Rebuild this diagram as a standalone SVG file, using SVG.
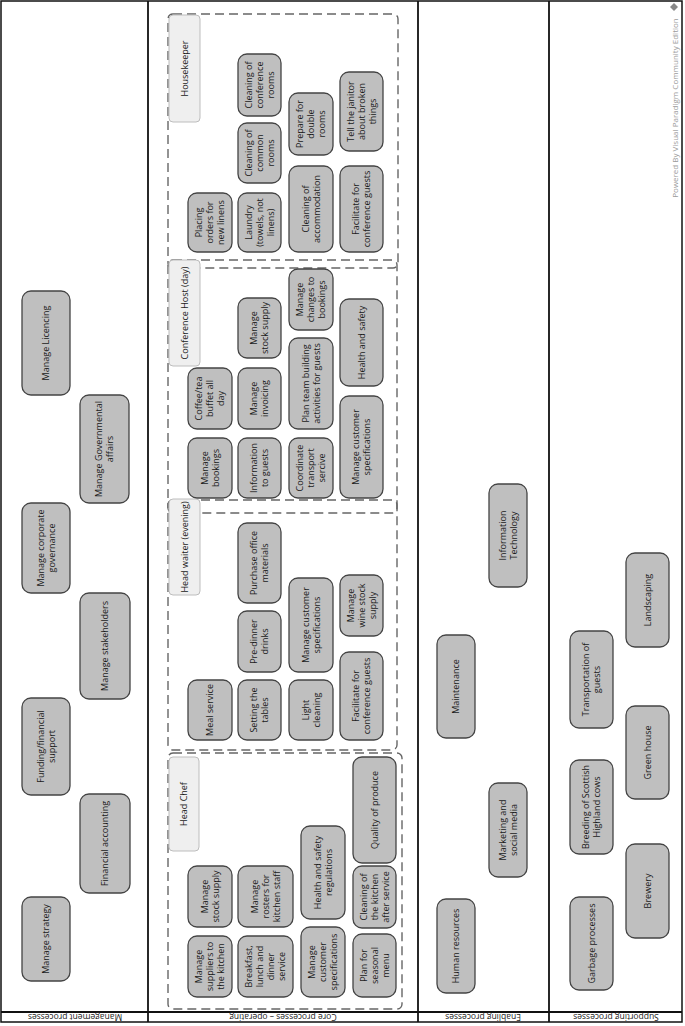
<svg xmlns="http://www.w3.org/2000/svg" width="685" height="1026" viewBox="0 0 685 1026">
<style>
.bg{fill:#fff}
.frame{fill:none;stroke:#111;stroke-width:1.5}
.sep{stroke:#111;stroke-width:1.8}
.n rect{fill:#bfbfbf;stroke:#444;stroke-width:1.3}
.n text{font-family:"Open Sans","DejaVu Sans",sans-serif;font-size:9px;fill:#1a1a1a;text-anchor:middle}
.grp{fill:none;stroke:#666;stroke-width:1.4;stroke-dasharray:9,5}
.hdr rect{fill:#efefef;stroke:#bdbdbd;stroke-width:1}
.hdr text{font-family:"Open Sans","DejaVu Sans",sans-serif;font-size:9px;fill:#1a1a1a;text-anchor:middle}
.lane{font-family:"Open Sans","DejaVu Sans",sans-serif;font-size:8.5px;fill:#222;text-anchor:middle}
.wm{font-family:"Open Sans","DejaVu Sans",sans-serif;font-size:8px;fill:#9a9a9a;text-anchor:middle}
</style>
<rect class="bg" x="0" y="0" width="685" height="1026"/>
<g id="lanes">
<rect class="frame" x="1" y="1" width="681" height="1021"/>
<line class="sep" x1="148" y1="1" x2="148" y2="1022"/>
<line class="sep" x1="418" y1="1" x2="418" y2="1022"/>
<line class="sep" x1="549" y1="1" x2="549" y2="1022"/>
<line class="sep" x1="1" y1="1012" x2="682" y2="1012"/>
<text class="lane" transform="translate(75,1017) rotate(180)" y="3">Management processes</text>
<text class="lane" transform="translate(283,1017) rotate(180)" y="3">Core processes – operating</text>
<text class="lane" transform="translate(483,1017) rotate(180)" y="3">Enabling processes</text>
<text class="lane" transform="translate(616,1017) rotate(180)" y="3">Supporting processes</text>
</g>
<g id="watermark">
<text class="wm" transform="translate(675,108) rotate(-90)" y="3">Powered By Visual Paradigm Community Edition</text>
<path d="M674,3 l4,4 l-4,4 l-4,-4 z" fill="#888"/>
</g>
<g id="groups">
<rect id="g-housekeeper" class="grp" x="168" y="14" width="230" height="254" rx="5"/>
<rect id="g-conference" class="grp" x="168" y="260" width="229" height="253" rx="5"/>
<rect id="g-waiter" class="grp" x="168" y="500" width="229" height="250" rx="5"/>
<rect id="g-chef" class="grp" x="168" y="753" width="234" height="256" rx="5"/>
<g class="hdr" id="h-housekeeper"><rect x="169" y="15" width="31" height="107" rx="4"/><text transform="translate(184.5,68.5) rotate(-90)" y="3">Housekeeper</text></g>
<g class="hdr" id="h-conference"><rect x="169" y="260" width="31" height="106" rx="4"/><text transform="translate(184.5,313) rotate(-90)" y="3">Conference Host (day)</text></g>
<g class="hdr" id="h-waiter"><rect x="169" y="499" width="31" height="96" rx="4"/><text transform="translate(184.5,547) rotate(-90)" y="3">Head waiter (evening)</text></g>
<g class="hdr" id="h-chef"><rect x="169" y="757" width="30" height="94" rx="4"/><text transform="translate(184,804) rotate(-90)" y="3">Head Chef</text></g>
</g>
<g id="connectors"></g>

<!-- Management -->
<g class="n" id="m1"><rect x="22" y="897" width="48" height="84" rx="9"/><text transform="translate(46,939) rotate(-90)"><tspan x="0" y="3">Manage strategy</tspan></text></g>
<g class="n" id="m2"><rect x="80" y="794" width="50" height="99" rx="9"/><text transform="translate(105,843.5) rotate(-90)"><tspan x="0" y="3">Financial accounting</tspan></text></g>
<g class="n" id="m3"><rect x="22" y="698" width="48" height="97" rx="9"/><text transform="translate(46,746.5) rotate(-90)"><tspan x="0" y="-2.5">Funding/financial</tspan><tspan x="0" y="8.5">support</tspan></text></g>
<g class="n" id="m4"><rect x="80" y="593" width="50" height="106" rx="9"/><text transform="translate(105,646) rotate(-90)"><tspan x="0" y="3">Manage stakeholders</tspan></text></g>
<g class="n" id="m5"><rect x="22" y="503" width="48" height="90" rx="9"/><text transform="translate(46,548) rotate(-90)"><tspan x="0" y="-2.5">Manage corporate</tspan><tspan x="0" y="8.5">governance</tspan></text></g>
<g class="n" id="m6"><rect x="80" y="395" width="49" height="108" rx="9"/><text transform="translate(104.5,449) rotate(-90)"><tspan x="0" y="-2.5">Manage Governmental</tspan><tspan x="0" y="8.5">affairs</tspan></text></g>
<g class="n" id="m7"><rect x="22" y="291" width="48" height="104" rx="9"/><text transform="translate(46,343) rotate(-90)"><tspan x="0" y="3">Manage Licencing</tspan></text></g>

<!-- Housekeeper -->
<g class="n" id="hk1"><rect x="188" y="193" width="44" height="59" rx="9"/><text transform="translate(210,222.5) rotate(-90)"><tspan x="0" y="-8">Placing</tspan><tspan x="0" y="3">orders for</tspan><tspan x="0" y="14">new linens</tspan></text></g>
<g class="n" id="hk2"><rect x="238" y="193" width="43" height="59" rx="9"/><text transform="translate(259.5,222.5) rotate(-90)"><tspan x="0" y="-8">Laundry</tspan><tspan x="0" y="3">(towels, not</tspan><tspan x="0" y="14">linens)</tspan></text></g>
<g class="n" id="hk3"><rect x="238" y="123" width="43" height="60" rx="9"/><text transform="translate(259.5,153) rotate(-90)"><tspan x="0" y="-8">Cleaning of</tspan><tspan x="0" y="3">common</tspan><tspan x="0" y="14">rooms</tspan></text></g>
<g class="n" id="hk4"><rect x="238" y="54" width="43" height="62" rx="9"/><text transform="translate(259.5,85) rotate(-90)"><tspan x="0" y="-8">Cleaning of</tspan><tspan x="0" y="3">conference</tspan><tspan x="0" y="14">rooms</tspan></text></g>
<g class="n" id="hk5"><rect x="289" y="166" width="44" height="86" rx="9"/><text transform="translate(311,209) rotate(-90)"><tspan x="0" y="-2.5">Cleaning of</tspan><tspan x="0" y="8.5">accommodation</tspan></text></g>
<g class="n" id="hk6"><rect x="289" y="93" width="44" height="62" rx="9"/><text transform="translate(311,124) rotate(-90)"><tspan x="0" y="-8">Prepare for</tspan><tspan x="0" y="3">double</tspan><tspan x="0" y="14">rooms</tspan></text></g>
<g class="n" id="hk7"><rect x="340" y="166" width="43" height="86" rx="9"/><text transform="translate(361.5,209) rotate(-90)"><tspan x="0" y="-2.5">Facilitate for</tspan><tspan x="0" y="8.5">conference guests</tspan></text></g>
<g class="n" id="hk8"><rect x="340" y="72" width="43" height="79" rx="9"/><text transform="translate(361.5,111.5) rotate(-90)"><tspan x="0" y="-8">Tell the janitor</tspan><tspan x="0" y="3">about broken</tspan><tspan x="0" y="14">things</tspan></text></g>

<!-- Conference Host -->
<g class="n" id="ch1"><rect x="188" y="438" width="44" height="60" rx="9"/><text transform="translate(210,468) rotate(-90)"><tspan x="0" y="-2.5">Manage</tspan><tspan x="0" y="8.5">bookings</tspan></text></g>
<g class="n" id="ch2"><rect x="188" y="368" width="44" height="61" rx="9"/><text transform="translate(210,398.5) rotate(-90)"><tspan x="0" y="-8">Coffee/tea</tspan><tspan x="0" y="3">buffet all</tspan><tspan x="0" y="14">day</tspan></text></g>
<g class="n" id="ch3"><rect x="238" y="438" width="43" height="60" rx="9"/><text transform="translate(259.5,468) rotate(-90)"><tspan x="0" y="-2.5">Information</tspan><tspan x="0" y="8.5">to guests</tspan></text></g>
<g class="n" id="ch4"><rect x="238" y="368" width="43" height="61" rx="9"/><text transform="translate(259.5,398.5) rotate(-90)"><tspan x="0" y="-2.5">Manage</tspan><tspan x="0" y="8.5">invoicing</tspan></text></g>
<g class="n" id="ch5"><rect x="238" y="298" width="43" height="60" rx="9"/><text transform="translate(259.5,328) rotate(-90)"><tspan x="0" y="-2.5">Manage</tspan><tspan x="0" y="8.5">stock supply</tspan></text></g>
<g class="n" id="ch6"><rect x="289" y="438" width="44" height="60" rx="9"/><text transform="translate(311,468) rotate(-90)"><tspan x="0" y="-8">Coordinate</tspan><tspan x="0" y="3">transport</tspan><tspan x="0" y="14">sercive</tspan></text></g>
<g class="n" id="ch7"><rect x="289" y="338" width="44" height="91" rx="9"/><text transform="translate(311,383.5) rotate(-90)"><tspan x="0" y="-2.5">Plan team building</tspan><tspan x="0" y="8.5">activities for guests</tspan></text></g>
<g class="n" id="ch8"><rect x="289" y="269" width="44" height="61" rx="9"/><text transform="translate(311,299.5) rotate(-90)"><tspan x="0" y="-8">Manage</tspan><tspan x="0" y="3">changes to</tspan><tspan x="0" y="14">bookings</tspan></text></g>
<g class="n" id="ch9"><rect x="340" y="396" width="43" height="102" rx="9"/><text transform="translate(361.5,447) rotate(-90)"><tspan x="0" y="-2.5">Manage customer</tspan><tspan x="0" y="8.5">specifications</tspan></text></g>
<g class="n" id="ch10"><rect x="340" y="299" width="43" height="87" rx="9"/><text transform="translate(361.5,342.5) rotate(-90)"><tspan x="0" y="3">Health and safety</tspan></text></g>

<!-- Head waiter -->
<g class="n" id="hw1"><rect x="188" y="680" width="44" height="60" rx="9"/><text transform="translate(210,710) rotate(-90)"><tspan x="0" y="3">Meal service</tspan></text></g>
<g class="n" id="hw2"><rect x="238" y="680" width="43" height="60" rx="9"/><text transform="translate(259.5,710) rotate(-90)"><tspan x="0" y="-2.5">Setting the</tspan><tspan x="0" y="8.5">tables</tspan></text></g>
<g class="n" id="hw3"><rect x="238" y="611" width="43" height="61" rx="9"/><text transform="translate(259.5,641.5) rotate(-90)"><tspan x="0" y="-2.5">Pre-dinner</tspan><tspan x="0" y="8.5">drinks</tspan></text></g>
<g class="n" id="hw4"><rect x="238" y="523" width="43" height="80" rx="9"/><text transform="translate(259.5,563) rotate(-90)"><tspan x="0" y="-2.5">Purchase office</tspan><tspan x="0" y="8.5">materials</tspan></text></g>
<g class="n" id="hw5"><rect x="289" y="680" width="44" height="60" rx="9"/><text transform="translate(311,710) rotate(-90)"><tspan x="0" y="-2.5">Light</tspan><tspan x="0" y="8.5">cleaning</tspan></text></g>
<g class="n" id="hw6"><rect x="289" y="578" width="44" height="94" rx="9"/><text transform="translate(311,625) rotate(-90)"><tspan x="0" y="-2.5">Manage customer</tspan><tspan x="0" y="8.5">specifications</tspan></text></g>
<g class="n" id="hw7"><rect x="340" y="652" width="43" height="88" rx="9"/><text transform="translate(361.5,696) rotate(-90)"><tspan x="0" y="-2.5">Facilitate for</tspan><tspan x="0" y="8.5">conference guests</tspan></text></g>
<g class="n" id="hw8"><rect x="340" y="575" width="43" height="61" rx="9"/><text transform="translate(361.5,605.5) rotate(-90)"><tspan x="0" y="-8">Manage</tspan><tspan x="0" y="3">wine stock</tspan><tspan x="0" y="14">supply</tspan></text></g>

<!-- Head Chef -->
<g class="n" id="hc1"><rect x="188" y="936" width="44" height="61" rx="9"/><text transform="translate(210,966.5) rotate(-90)"><tspan x="0" y="-8">Manage</tspan><tspan x="0" y="3">suppliers to</tspan><tspan x="0" y="14">the kitchen</tspan></text></g>
<g class="n" id="hc2"><rect x="188" y="866" width="44" height="61" rx="9"/><text transform="translate(210,896.5) rotate(-90)"><tspan x="0" y="-2.5">Manage</tspan><tspan x="0" y="8.5">stock supply</tspan></text></g>
<g class="n" id="hc3"><rect x="238" y="936" width="55" height="61" rx="9"/><text transform="translate(265.5,966.5) rotate(-90)"><tspan x="0" y="-13.5">Breakfast,</tspan><tspan x="0" y="-2.5">lunch and</tspan><tspan x="0" y="8.5">dinner</tspan><tspan x="0" y="19.5">service</tspan></text></g>
<g class="n" id="hc4"><rect x="238" y="866" width="55" height="61" rx="9"/><text transform="translate(265.5,896.5) rotate(-90)"><tspan x="0" y="-8">Manage</tspan><tspan x="0" y="3">rosters for</tspan><tspan x="0" y="14">kitchen staff</tspan></text></g>
<g class="n" id="hc5"><rect x="301" y="927" width="44" height="70" rx="9"/><text transform="translate(323,962) rotate(-90)"><tspan x="0" y="-8">Manage</tspan><tspan x="0" y="3">customer</tspan><tspan x="0" y="14">specifications</tspan></text></g>
<g class="n" id="hc6"><rect x="301" y="826" width="44" height="93" rx="9"/><text transform="translate(323,872.5) rotate(-90)"><tspan x="0" y="-2.5">Health and safety</tspan><tspan x="0" y="8.5">regulations</tspan></text></g>
<g class="n" id="hc7"><rect x="353" y="934" width="43" height="63" rx="9"/><text transform="translate(374.5,965.5) rotate(-90)"><tspan x="0" y="-8">Plan for</tspan><tspan x="0" y="3">seasonal</tspan><tspan x="0" y="14">menu</tspan></text></g>
<g class="n" id="hc8"><rect x="353" y="866" width="43" height="62" rx="9"/><text transform="translate(374.5,897) rotate(-90)"><tspan x="0" y="-8">Cleaning of</tspan><tspan x="0" y="3">the kitchen</tspan><tspan x="0" y="14">after service</tspan></text></g>
<g class="n" id="hc9"><rect x="353" y="757" width="43" height="106" rx="9"/><text transform="translate(374.5,810) rotate(-90)"><tspan x="0" y="3">Quality of produce</tspan></text></g>

<!-- Enabling -->
<g class="n" id="e1"><rect x="489" y="484" width="38" height="103" rx="9"/><text transform="translate(508,535.5) rotate(-90)"><tspan x="0" y="-2.5">Information</tspan><tspan x="0" y="8.5">Technology</tspan></text></g>
<g class="n" id="e2"><rect x="437" y="635" width="38" height="103" rx="9"/><text transform="translate(456,686.5) rotate(-90)"><tspan x="0" y="3">Maintenance</tspan></text></g>
<g class="n" id="e3"><rect x="489" y="783" width="38" height="94" rx="9"/><text transform="translate(508,830) rotate(-90)"><tspan x="0" y="-2.5">Marketing and</tspan><tspan x="0" y="8.5">social media</tspan></text></g>
<g class="n" id="e4"><rect x="437" y="899" width="38" height="94" rx="9"/><text transform="translate(456,946) rotate(-90)"><tspan x="0" y="3">Human resources</tspan></text></g>

<!-- Supporting -->
<g class="n" id="s1"><rect x="626" y="553" width="43" height="94" rx="9"/><text transform="translate(647.5,600) rotate(-90)"><tspan x="0" y="3">Landscaping</tspan></text></g>
<g class="n" id="s2"><rect x="570" y="631" width="43" height="97" rx="9"/><text transform="translate(591.5,679.5) rotate(-90)"><tspan x="0" y="-2.5">Transportation of</tspan><tspan x="0" y="8.5">guests</tspan></text></g>
<g class="n" id="s3"><rect x="626" y="706" width="43" height="93" rx="9"/><text transform="translate(647.5,752.5) rotate(-90)"><tspan x="0" y="3">Green house</tspan></text></g>
<g class="n" id="s4"><rect x="570" y="760" width="43" height="94" rx="9"/><text transform="translate(591.5,807) rotate(-90)"><tspan x="0" y="-2.5">Breeding of Scottish</tspan><tspan x="0" y="8.5">Highland cows</tspan></text></g>
<g class="n" id="s5"><rect x="626" y="844" width="43" height="94" rx="9"/><text transform="translate(647.5,891) rotate(-90)"><tspan x="0" y="3">Brewery</tspan></text></g>
<g class="n" id="s6"><rect x="570" y="897" width="43" height="93" rx="9"/><text transform="translate(591.5,943.5) rotate(-90)"><tspan x="0" y="3">Garbage processes</tspan></text></g>
</svg>
